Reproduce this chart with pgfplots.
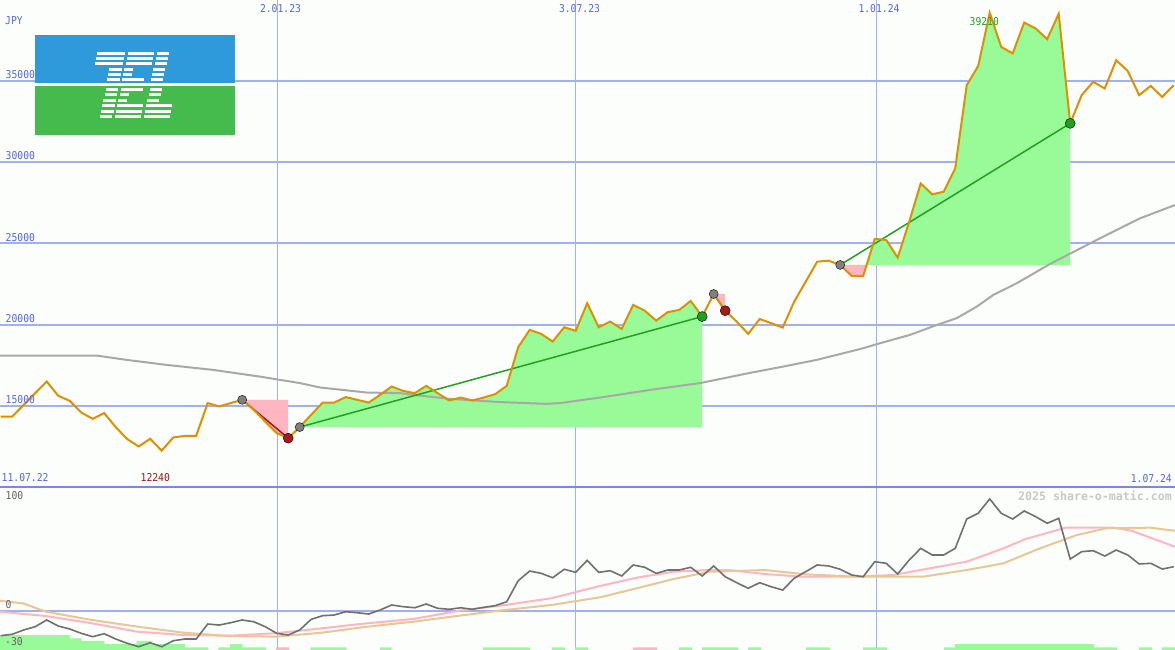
\documentclass[border=0pt]{standalone}
\usepackage{fontspec}
\usepackage{graphicx}
\usepackage{pgfplots}
\pgfplotsset{compat=1.18}
\usepackage{pgfplotstable}
\usepgfplotslibrary{fillbetween}

\newfontfamily\pxfont{DejaVu Sans Mono}

\definecolor{bgc}{RGB}{252,254,252}
\definecolor{gridc}{RGB}{160,176,240}
\definecolor{sepc}{RGB}{120,136,232}
\definecolor{labc}{RGB}{84,100,232}
\definecolor{pricec}{RGB}{221,144,0}
\definecolor{mac}{RGB}{168,168,168}
\definecolor{fillg}{RGB}{152,251,152}
\definecolor{fillp}{RGB}{255,182,193}
\definecolor{tradeg}{RGB}{34,160,34}
\definecolor{trader}{RGB}{160,20,20}
\definecolor{dotr}{RGB}{170,24,24}
\definecolor{dotgr}{RGB}{128,128,128}
\definecolor{oscc}{RGB}{112,112,112}
\definecolor{tanc}{RGB}{230,200,150}
\definecolor{wmc}{RGB}{200,200,200}
\definecolor{lowlab}{RGB}{96,96,96}
\definecolor{logob}{RGB}{46,154,220}
\definecolor{logog}{RGB}{68,187,76}

\newcommand{\lab}[1]{\pxfont\fontsize{10.8}{12}\selectfont\scalebox{0.9}[1]{#1}}

% weekly closes (JPY)
\pgfplotstableread{
x y
0.7 14340
12.2 14340
23.7 15060
35.2 15780
46.7 16500
58.2 15620
69.7 15310
81.2 14590
92.7 14200
104.2 14550
115.7 13690
127.2 12950
138.7 12500
150.2 12970
161.7 12240
173.2 13050
184.7 13150
196.2 13150
207.7 15170
219.2 14960
230.7 15170
242.2 15370
253.7 14750
265.2 14030
276.7 13320
288.2 13010
299.7 13690
311.2 14450
322.7 15200
334.2 15200
345.7 15540
357.2 15370
368.7 15200
380.2 15680
391.7 16190
403.2 15920
414.7 15780
426.2 16230
437.7 15780
449.2 15330
460.7 15510
472.2 15330
483.7 15510
495.2 15720
506.7 16230
518.2 18610
529.7 19680
541.2 19430
552.7 18960
564.2 19840
575.7 19620
587.2 21320
598.7 19840
610.2 20190
621.7 19740
633.2 21220
644.7 20860
656.2 20250
667.7 20770
679.2 20910
690.7 21460
702.2 20500
713.7 21890
725.2 20860
736.7 20190
748.2 19430
759.7 20350
771.2 20090
782.7 19820
794.2 21420
805.7 22650
817.2 23880
828.7 23940
840.2 23680
851.7 23000
863.2 23000
874.7 25280
886.2 25220
897.7 24130
909.2 26340
920.7 28700
932.2 28030
943.7 28190
955.2 29630
966.7 34750
978.2 35940
989.7 39210
1001.2 37110
1012.7 36710
1024.2 38610
1035.7 38240
1047.2 37590
1058.7 39150
1070.2 32400
1081.7 34140
1093.2 34960
1104.7 34550
1116.2 36290
1127.7 35630
1139.2 34140
1150.7 34710
1162.2 34030
1173.7 34750
}\price

% moving average
\pgfplotstableread{
x y
0 18095
96.7 18095
126.7 17830
166.7 17520
213 17215
260 16800
300 16400
320 16130
366.7 15820
400 15780
420 15630
450 15430
500 15230
546.7 15120
560 15170
600 15510
650 15980
700 16400
750 17030
783.3 17420
816.7 17830
863.3 18550
876.7 18800
910 19370
936.7 19980
956.7 20400
976.7 21110
993.3 21830
1016.7 22550
1050 23740
1100 25320
1140 26550
1175 27370
}\ma

% lower panel: momentum
\pgfplotstableread{
x y
0.7 -22.9
12.2 -21.6
23.7 -17.7
35.2 -14.7
46.7 -8.6
58.2 -14.1
69.7 -16.8
81.2 -20.7
92.7 -23.8
104.2 -21.1
115.7 -25.9
127.2 -29.8
138.7 -32.9
150.2 -29.3
161.7 -32.9
173.2 -27.5
184.7 -25.9
196.2 -25.9
207.7 -12.3
219.2 -13.2
230.7 -11.1
242.2 -8.6
253.7 -10.2
265.2 -14.7
276.7 -20.7
288.2 -22.3
299.7 -17.7
311.2 -8.0
322.7 -4.7
334.2 -4.1
345.7 -1.1
357.2 -2.0
368.7 -3.2
380.2 0.5
391.7 5.0
403.2 3.5
414.7 2.5
426.2 5.9
437.7 2.0
449.2 1.1
460.7 2.5
472.2 1.1
483.7 2.9
495.2 4.4
506.7 8.0
518.2 27.1
529.7 35.9
541.2 33.8
552.7 29.8
564.2 37.5
575.7 34.7
587.2 45.6
598.7 34.7
610.2 36.2
621.7 31.4
633.2 41.4
644.7 39.3
656.2 33.8
667.7 36.8
679.2 36.8
690.7 39.3
702.2 31.4
713.7 40.5
725.2 30.7
736.7 25.3
748.2 20.2
759.7 25.3
771.2 21.6
782.7 18.6
794.2 29.3
805.7 35.3
817.2 41.4
828.7 40.5
840.2 37.5
851.7 32.3
863.2 30.7
874.7 44.4
886.2 42.9
897.7 33.2
909.2 45.9
920.7 56.5
932.2 50.5
943.7 50.5
955.2 56.5
966.7 83.2
978.2 88.4
989.7 101.4
1001.2 88.4
1012.7 83.2
1024.2 90.5
1035.7 85.3
1047.2 79.3
1058.7 83.8
1070.2 46.8
1081.7 53.5
1093.2 54.4
1104.7 49.5
1116.2 55.0
1127.7 50.5
1139.2 42.3
1150.7 42.9
1162.2 37.7
1173.7 39.8
}\osc

\pgfplotstableread{
x y
0 -1.1
45.9 -5.0
91.8 -11.6
137.8 -19.3
183.7 -22.3
229.6 -22.9
275.5 -20.7
321.5 -16.2
367.4 -11.6
413.3 -7.7
459.2 -0.2
505.2 5.0
551.1 11.1
600 22.3
636.7 29.8
673.3 35.3
710 36.8
728.3 36.8
765 33.2
801.7 30.7
856.7 30.7
893.4 32.3
930 38.4
966.7 44.4
1003.4 56.5
1025.4 65.0
1065.7 75.3
1113.4 75.3
1131.7 72.5
1175 58.0
}\sigp

\pgfplotstableread{
x y
0 8.9
23 6.5
45.9 -1.1
91.8 -8.6
137.8 -14.7
183.7 -20.2
229.6 -23.2
275.5 -23.8
321.5 -20.2
367.4 -14.7
413.3 -10.2
459.2 -4.7
505.2 0.5
551.1 5.0
600 12.0
636.7 20.2
673.3 28.6
710 35.3
765 36.8
805.4 32.9
856.7 30.7
922.7 30.7
966.7 36.8
1003.4 42.9
1040 56.5
1076.7 68.6
1106 74.7
1150 75.3
1175 72.5
}\sigt

\pgfplotstableread{
x y
0 -40
0 -22.3
70 -25.3
81.7 -27.5
104.3 -30.5
136.7 -27.5
151.7 -30.5
185 -33.5
208.3 -40
218.3 -33.5
230 -30.5
242.7 -33.5
266 -40
310.7 -33.5
346.7 -40
380 -33.5
391.7 -40
483 -33.5
530 -40
552 -33.5
565 -40
575 -33.5
588 -40
679 -33.5
692 -40
702 -33.5
738 -40
748 -33.5
761 -40
806 -33.5
830 -40
863 -33.5
887 -40
944 -33.5
955 -30.5
1094 -33.5
1117 -40
1139 -33.5
1152 -40
1162 -33.5
1175 -40
}\barsg

\pgfplotstableread{
x y
0 -40
276 -33.5
289.3 -40
633 -33.5
657 -40
1175 -40
}\barsp

\begin{document}
\begin{tikzpicture}[x=1pt,y=1pt]

\begin{axis}[
    at={(0pt,163pt)}, anchor=south west,
    scale only axis, width=1175pt, height=487pt,
    xmin=0, xmax=1175, ymin=10000, ymax=40000,
    xtick={277.3,575.7,876.7}, ytick={15000,20000,25000,30000,35000},
    xticklabels={}, yticklabels={},
    grid=major,
    x grid style={gridc, line width=1.2pt},
    y grid style={gridc, line width=2pt},
    axis line style={draw=none}, tick style={draw=none},
    axis background/.style={fill=bgc},
]
\addplot[draw=none, name path=price] table {\price};
\addplot[draw=none, name path=e1] coordinates {(0,15370) (1175,15370)};
\addplot[draw=none, name path=e2] coordinates {(0,13690) (1175,13690)};
\addplot[draw=none, name path=e3] coordinates {(0,21890) (1175,21890)};
\addplot[draw=none, name path=e4] coordinates {(0,23680) (1175,23680)};
\addplot[fill=fillp, draw=none] fill between[of=price and e1, soft clip={domain=242.2:288.2}];
\addplot[fill=fillg, draw=none] fill between[of=price and e2, soft clip={domain=299.7:702.2}];
\addplot[fill=fillp, draw=none] fill between[of=price and e3, soft clip={domain=713.7:725.2}];
\addplot[fill=fillg, draw=none] fill between[of=price and e4, soft clip={domain=840.2:1070.2}];
\addplot[fill=fillp, draw=none] fill between[of=price and e4, soft clip={domain=840.2:866.6}];

\addplot[mac, line width=2pt] table {\ma};
\addplot[trader, line width=1.5pt] coordinates {(242.2,15370) (288.2,13010)};
\addplot[trader, line width=1.5pt] coordinates {(713.7,21890) (725.2,20860)};
\addplot[tradeg, line width=1.5pt] coordinates {(299.7,13690) (702.2,20500)};
\addplot[tradeg, line width=1.5pt] coordinates {(840.2,23680) (1070.2,32400)};
\addplot[only marks, mark=*, mark size=4.5pt, mark options={draw=none, fill=dotgr}]
    coordinates {(242.2,15370) (299.7,13690) (713.7,21890) (840.2,23680)};
\addplot[pricec, line width=2pt] table {\price};
\addplot[only marks, mark=*, mark size=5pt, mark options={draw=none, fill=dotr}]
    coordinates {(288.2,13010) (725.2,20860)};
\addplot[only marks, mark=*, mark size=5pt, mark options={draw=none, fill=tradeg}]
    coordinates {(702.2,20500) (1070.2,32400)};
\end{axis}

\begin{axis}[
    at={(0pt,0pt)}, anchor=south west,
    scale only axis, width=1175pt, height=163pt,
    xmin=0, xmax=1175, ymin=-35.9, ymax=112.3,
    xtick={277.3,575.7,876.7}, ytick={0},
    xticklabels={}, yticklabels={},
    grid=major,
    x grid style={gridc, line width=1.2pt},
    y grid style={gridc, line width=2pt},
    axis line style={draw=none}, tick style={draw=none},
    axis background/.style={fill=bgc},
]
\addplot[const plot, fill=fillg, draw=none] table {\barsg};
\addplot[const plot, fill=fillp, draw=none] table {\barsp};
\addplot[fillp, line width=2pt] table {\sigp};
\addplot[tanc, line width=2pt] table {\sigt};
\addplot[oscc, line width=1.6pt] table {\osc};
\end{axis}

\draw[sepc, line width=2pt] (0,163.3) -- (1175,163.3);

% logo: striped TEL
\fill[logob] (35,566.7) rectangle (235,615);
\fill[logog] (35,515) rectangle (235,564);
\foreach \a/\b/\c in {
    97/125/53.3, 128/154/53.3, 157/169/53.3,
    95.8/123.8/58.6, 126.8/152.8/58.6, 155.8/167.8/58.6,
    94.6/122.6/63.9, 125.6/151.6/63.9, 154.6/166.6/63.9,
    109.4/121.9/69.2, 124.4/133.4/69.2, 153.4/165.4/69.2,
    108.2/120.7/74.5, 123.2/132.2/74.5, 152.2/164.2/74.5,
    107/119.5/79.8, 122/144/79.8, 151/163/79.8,
    105.8/118.3/89.3, 120.8/142.8/89.3, 149.8/161.8/89.3,
    104.6/117.1/94.8, 119.6/128.6/94.8, 148.6/160.6/94.8,
    103.4/115.9/100.2, 118.4/127.4/100.2, 147.4/159.4/100.2,
    102.2/114.7/105.7, 117.2/143.2/105.7, 146.2/172.2/105.7,
    101/113.5/111.2, 116/142/111.2, 145/171/111.2,
    99.8/112.3/116.6, 114.8/140.8/116.6, 143.8/169.8/116.6}
    \fill[white] (\a,650-\c-1.4) rectangle (\b,650-\c+1.4);

% labels
\begin{scope}[every node/.style={inner sep=0, text=labc}]
\node[anchor=west] at (5,629.5) {\lab{JPY}};
\node[anchor=west] at (5.5,575) {\lab{35000}};
\node[anchor=west] at (5.5,494) {\lab{30000}};
\node[anchor=west] at (5.5,412) {\lab{25000}};
\node[anchor=west] at (5.5,331) {\lab{20000}};
\node[anchor=west] at (5.5,250) {\lab{15000}};
\node at (280.5,641) {\lab{2.01.23}};
\node at (579.5,641) {\lab{3.07.23}};
\node at (879,641) {\lab{1.01.24}};
\node[anchor=west] at (1.5,172) {\lab{11.07.22}};
\node[anchor=east] at (1172,171) {\lab{1.07.24}};
\node[text=trader] at (155.3,172) {\lab{12240}};
\node[text=tradeg] at (984.3,628.3) {\lab{39210}};
\node[anchor=west, text=lowlab] at (5.5,154) {\lab{100}};
\node[anchor=west, text=lowlab] at (5.5,45) {\lab{0}};
\node[anchor=west, text=lowlab] at (5,8) {\lab{-30}};
\node[anchor=east, text=wmc] at (1172,154.3)
    {\pxfont\bfseries\fontsize{11.6}{13}\selectfont 2025 share-o-matic.com};
\end{scope}

\pgfresetboundingbox
\path (0,0) rectangle (1175,650);
\end{tikzpicture}
\end{document}
